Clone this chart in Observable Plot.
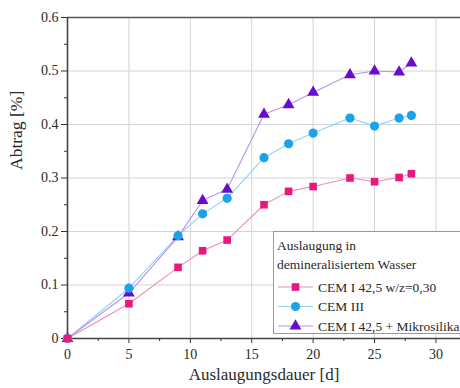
<!DOCTYPE html>
<html>
<head>
<meta charset="utf-8">
<script src="https://cdn.jsdelivr.net/npm/d3@7"></script>
<script src="https://cdn.jsdelivr.net/npm/@observablehq/plot@0.6"></script>
<style>
  html, body { margin: 0; padding: 0; background: #fff; }
  #chart svg { display: block; }
</style>
</head>
<body>
<div id="chart"></div>
<script>
const days = [0, 5, 9, 11, 13, 16, 18, 20, 23, 25, 27, 28];
const cemI = [0, 0.065, 0.133, 0.164, 0.184, 0.250, 0.275, 0.284, 0.300, 0.293, 0.301, 0.308];
const cemIII = [0, 0.094, 0.192, 0.233, 0.262, 0.338, 0.364, 0.384, 0.412, 0.397, 0.412, 0.417];
const cemMs = [0, 0.085, 0.190, 0.258, 0.279, 0.419, 0.437, 0.460, 0.493, 0.500, 0.498, 0.515];
const seriesNames = ["CEM I 42,5 w/z=0,30", "CEM III", "CEM I 42,5 + Mikrosilika"];
const legendTitle = ["Auslaugung in", "demineralisiertem Wasser"];
const xTicks = [0, 5, 10, 15, 20, 25, 30];
const yTicks = [0, 0.1, 0.2, 0.3, 0.4, 0.5, 0.6];

const markerColors = ["#e8187c", "#1aa3ea", "#6a0cd0"];
const lineColors = ["#f08cba", "#93d2f5", "#b993e8"];
const symbols = ["square", "circle", "triangle"];
const sizes = [4.3, 4.6, 4.4];

const all = [cemI, cemIII, cemMs];
const data = [];
all.forEach((vals, s) => vals.forEach((v, i) => data.push({s, x: days[i], y: v})));

const serif = "Liberation Serif";
const ink = "#2a2a2a";
const marks = [
  Plot.gridX([5, 10, 15, 20, 25, 30], {stroke: "#d4d4d4", strokeOpacity: 1, strokeWidth: 1}),
  Plot.gridY([0.1, 0.2, 0.3, 0.4, 0.5], {stroke: "#d4d4d4", strokeOpacity: 1, strokeWidth: 1}),
  Plot.ruleY([0.6], {stroke: "#555", strokeWidth: 1.6}),
  Plot.axisX(xTicks, {tickSize: 5, tickPadding: 6, fontSize: 14, fontFamily: serif, label: null, stroke: "#333", color: ink}),
  Plot.axisX(d3.range(2.5, 32, 5), {tickSize: 3, text: null, label: null, stroke: "#333"}),
  Plot.axisY(yTicks, {tickSize: 6, tickPadding: 3, fontSize: 14, fontFamily: serif, label: null, stroke: "#333", color: ink,
    tickFormat: d => d === 0 ? "0" : d.toFixed(1)}),
  Plot.axisY(d3.range(0.05, 0.6, 0.1), {tickSize: 3, text: null, label: null, stroke: "#333"}),
  Plot.ruleX([0], {stroke: "#444", strokeWidth: 1.6}),
  Plot.ruleY([0], {stroke: "#444", strokeWidth: 1.6}),
  ...[0, 1, 2].map(s => Plot.line(data.filter(d => d.s === s), {x: "x", y: "y", stroke: lineColors[s], strokeWidth: 1.1})),
  ...[2, 1, 0].map(s => Plot.dot(data.filter(d => d.s === s), {x: "x", y: "y", symbol: () => symbols[s], r: sizes[s], fill: markerColors[s], stroke: "none"})),
  Plot.text(["Abtrag [%]"], {frameAnchor: "left", rotate: -90, dx: -51, dy: -8, fontSize: 17.5, fontFamily: serif, fill: ink}),
  Plot.text(["Auslaugungsdauer [d]"], {frameAnchor: "bottom", dy: 41, fontSize: 17, fontFamily: serif, fill: ink})
];

const chart = Plot.plot({
  width: 460, height: 388,
  marginLeft: 67, marginTop: 17, marginBottom: 50, marginRight: 0,
  x: {domain: [0, 32]},
  y: {domain: [0, 0.6]},
  symbol: {domain: symbols, range: symbols},
  style: {background: "#fff", overflow: "visible", fontFamily: serif},
  marks
});
document.getElementById("chart").appendChild(chart);

// legend drawn inside the svg
const svg = d3.select(chart);
const g = svg.append("g").attr("font-size", 13.5).attr("fill", ink).attr("text-anchor", "start");
g.append("rect").attr("x", 273.5).attr("y", 231.5).attr("width", 200).attr("height", 102)
  .attr("fill", "#fff").attr("stroke", "#9a9a9a").attr("stroke-width", 1);
legendTitle.forEach((t, i) => g.append("text").attr("x", 277).attr("y", 250 + i * 19).text(t));
const symGen = [d3.symbolSquare, d3.symbolCircle, d3.symbolTriangle];
const areas = sizes.map(r => r * r * Math.PI);
seriesNames.forEach((n, i) => {
  const yy = 287 + i * 19.5;
  g.append("line").attr("x1", 278).attr("x2", 313).attr("y1", yy).attr("y2", yy)
    .attr("stroke", lineColors[i]).attr("stroke-width", 1.1);
  g.append("path").attr("d", d3.symbol(symGen[i], areas[i])())
    .attr("transform", `translate(295.5,${yy})`).attr("fill", markerColors[i]);
  g.append("text").attr("x", 318).attr("y", yy + 4.5).text(n);
});
svg.selectAll("text").style("font-family", serif);
</script>
</body>
</html>
